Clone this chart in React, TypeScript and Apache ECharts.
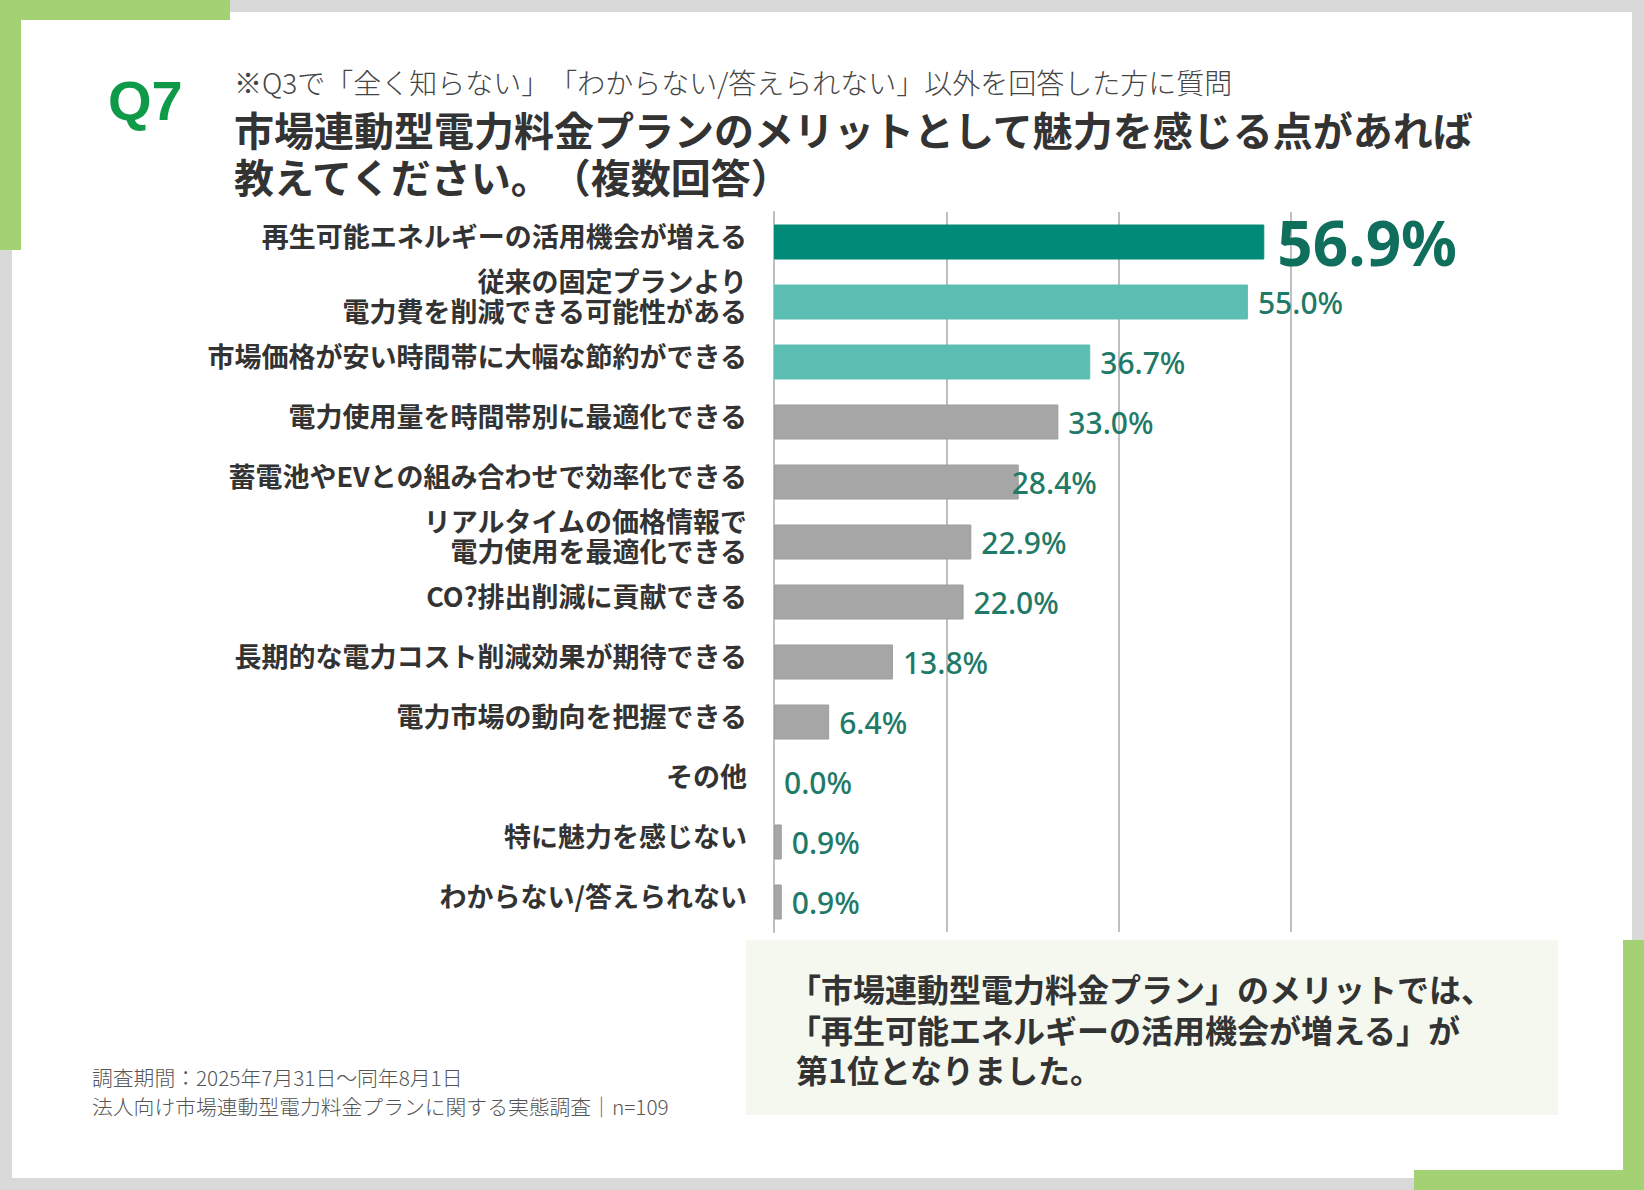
import React, { useEffect, useRef } from 'react';
import * as echarts from 'echarts';

const categories = [
  '再生可能エネルギーの活用機会が増える',
  '従来の固定プランより\n電力費を削減できる可能性がある',
  '市場価格が安い時間帯に大幅な節約ができる',
  '電力使用量を時間帯別に最適化できる',
  '蓄電池やEVとの組み合わせで効率化できる',
  'リアルタイムの価格情報で\n電力使用を最適化できる',
  'CO?排出削減に貢献できる',
  '長期的な電力コスト削減効果が期待できる',
  '電力市場の動向を把握できる',
  'その他',
  '特に魅力を感じない',
  'わからない/答えられない',
];
const values = [56.9, 55.0, 36.7, 33.0, 28.4, 22.9, 22.0, 13.8, 6.4, 0.0, 0.9, 0.9];
const barColors = [
  '#008a78', '#5cbdb2', '#5cbdb2', '#a6a6a6', '#a6a6a6', '#a6a6a6',
  '#a6a6a6', '#a6a6a6', '#a6a6a6', '#a6a6a6', '#a6a6a6', '#a6a6a6',
];
const xTicks = [0, 20, 40, 60];

const titleLines = [
  '市場連動型電力料金プランのメリットとして魅力を感じる点があれば',
  '教えてください。（複数回答）',
];
const subtitle = '※Q3で「全く知らない」「わからない/答えられない」以外を回答した方に質問';
const boxLines = [
  '「市場連動型電力料金プラン」のメリットでは、',
  '「再生可能エネルギーの活用機会が増える」が',
  '第1位となりました。',
];
const footLines = [
  '調査期間：2025年7月31日～同年8月1日',
  '法人向け市場連動型電力料金プランに関する実態調査｜n=109',
];

const JP = '"Noto Sans CJK JP", "Noto Sans", sans-serif';
const GREEN = '#a4d173';

export default function App() {
  const ref = useRef<HTMLDivElement>(null);
  useEffect(() => {
    document.body.style.margin = '0';
    const chart = echarts.init(ref.current!, null, { renderer: 'svg', width: 1644, height: 1190 });
    const option = {
      animation: false,
      backgroundColor: '#d9d9d9',
      graphic: [
        { type: 'rect', z: 0, shape: { x: 12, y: 12, width: 1620, height: 1166 }, style: { fill: '#ffffff' } },
        { type: 'rect', z: 0, shape: { x: 0, y: 0, width: 230, height: 20 }, style: { fill: GREEN } },
        { type: 'rect', z: 0, shape: { x: 0, y: 0, width: 21, height: 250 }, style: { fill: GREEN } },
        { type: 'rect', z: 0, shape: { x: 1623, y: 940, width: 21, height: 250 }, style: { fill: GREEN } },
        { type: 'rect', z: 0, shape: { x: 1414, y: 1170, width: 230, height: 20 }, style: { fill: GREEN } },
        { type: 'rect', z: 0, shape: { x: 746, y: 940, width: 812, height: 175 }, style: { fill: '#f4f8ee' } },
        {
          type: 'text', z: 1, x: 108, y: 100,
          style: { text: 'Q7', fill: '#0f9a49', font: 'bold 56px "Liberation Sans", Arial, sans-serif', textVerticalAlign: 'middle' },
        },
        {
          type: 'text', z: 1, x: 234, y: 82,
          style: { text: subtitle, fill: '#444444', font: `300 28px ${JP}`, textVerticalAlign: 'middle' },
        },
        ...titleLines.map((t, i) => ({
          type: 'text', z: 1, x: 234, y: 129 + i * 47,
          style: { text: t, fill: '#333333', font: `bold 40px ${JP}`, textVerticalAlign: 'middle' },
        })),
        ...boxLines.map((t, i) => ({
          type: 'text', z: 1, x: i < 2 ? 789 : 796, y: 988 + i * 40.5,
          style: { text: t, fill: '#333333', font: `bold 32px ${JP}`, textVerticalAlign: 'middle' },
        })),
        ...footLines.map((t, i) => ({
          type: 'text', z: 1, x: 92, y: 1077 + i * 29,
          style: { text: t, fill: '#555555', font: `300 20.8px ${JP}`, textVerticalAlign: 'middle' },
        })),
      ],
      grid: [
        { left: 774, top: 212, width: 517, height: 720, containLabel: false },
        { left: 774, top: 205, width: 517, height: 720, containLabel: false },
      ],
      xAxis: [
        {
          type: 'value',
          gridIndex: 0,
          min: xTicks[0],
          max: xTicks[xTicks.length - 1],
          interval: 20,
          axisLabel: { show: false },
          axisLine: { show: false },
          axisTick: { show: false },
          splitLine: { show: true, lineStyle: { color: '#bfbfbf', width: 2 } },
        },
        {
          type: 'value',
          gridIndex: 1,
          min: xTicks[0],
          max: xTicks[xTicks.length - 1],
          show: false,
        },
      ],
      yAxis: [
        {
          type: 'category',
          gridIndex: 0,
          inverse: true,
          data: categories,
          axisLine: { show: true, lineStyle: { color: '#bfbfbf', width: 2 } },
          axisTick: { show: false },
          axisLabel: { show: false },
        },
        {
          type: 'category',
          gridIndex: 1,
          inverse: true,
          data: categories,
          axisLine: { show: false },
          axisTick: { show: false },
          splitLine: { show: false },
          axisLabel: {
            color: '#333333',
            fontFamily: JP,
            fontWeight: 'bold',
            fontSize: 27,
            lineHeight: 30,
            margin: 27,
            align: 'right',
          },
        },
      ],
      series: [
        {
          type: 'bar',
          xAxisIndex: 0,
          yAxisIndex: 0,
          z: 3,
          barWidth: 35,
          data: values.map((v, i) => ({
            value: v,
            itemStyle: { color: barColors[i], borderColor: i < 3 ? barColors[i] : '#9c9c9c', borderWidth: v > 0 ? 1 : 0 },
            label: i === 0
              ? { fontSize: 62, fontWeight: 'bold', color: '#0f6e5c', distance: 13 }
              : i === 4
                ? { offset: [-17, 0] }
                : undefined,
          })),
          label: {
            show: true,
            position: 'right',
            distance: 10,
            fontFamily: '"Noto Sans", sans-serif',
            fontWeight: 500,
            fontSize: 30,
            color: '#1f7a68',
            formatter: (p: any) => `${Number(p.value).toFixed(1)}%`,
          },
        },
      ],
    };
    chart.setOption(option as any);
    return () => chart.dispose();
  }, []);
  return <div ref={ref} style={{ width: 1644, height: 1190, textSpacingTrim: 'space-all' } as any} />;
}
